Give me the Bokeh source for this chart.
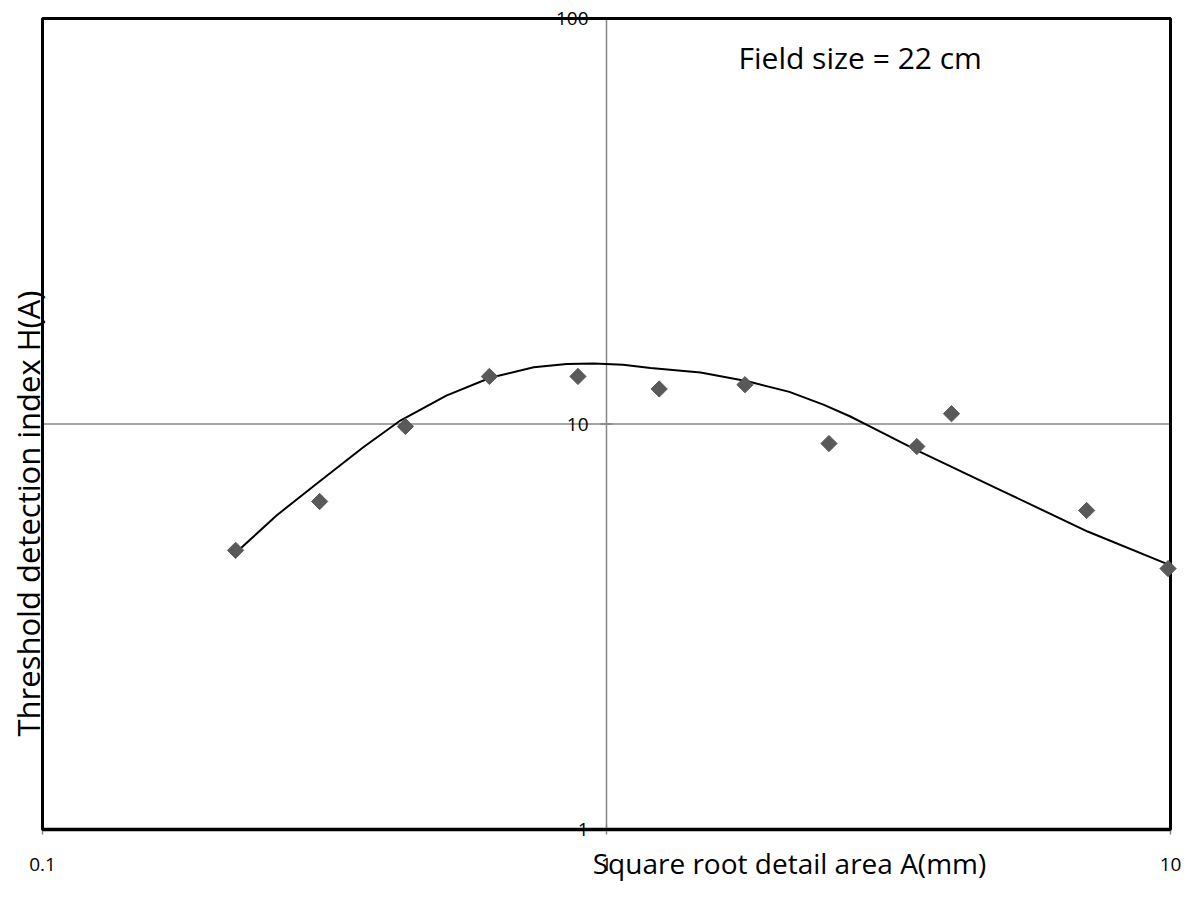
import math
from bokeh.plotting import figure
from bokeh.models import Range1d, Label
from bokeh.core.properties import value
from bokeh.embed import file_html
from bokeh.resources import INLINE

# measured points
detail_size = [0.22, 0.31, 0.44, 0.62, 0.89, 1.24, 1.76, 2.48, 3.55, 4.09, 7.1, 9.9]
threshold_index = [4.88, 6.44, 9.86, 13.1, 13.1, 12.2, 12.5, 8.95, 8.8, 10.6, 6.12, 4.4]

# smoothed trend curve
curve_x = [0.2226, 0.26, 0.307, 0.37, 0.431, 0.52, 0.622, 0.743, 0.85, 0.949, 1.07, 1.197,
           1.468, 1.778, 2.11, 2.43, 2.7, 2.96, 3.56, 4.93, 7.13, 10.0]
curve_y = [4.88, 5.95, 7.14, 8.75, 10.2, 11.75, 13.0, 13.8, 14.05, 14.1, 14.0, 13.75,
           13.4, 12.75, 12.0, 11.15, 10.45, 9.8, 8.6, 6.93, 5.43, 4.48]

x_ticks = [0.1, 1, 10]
x_tick_labels = ["0.1", "1", "10"]
y_ticks = [1, 10, 100]
y_tick_labels = ["1", "10", "100"]

FONT = "Open Sans"
W, H = 1190, 896
# pixel box of the plotting area (layout)
BOX_L, BOX_R, BOX_T, BOX_B = 42, 1170, 18, 829

xmin, xmax = x_ticks[0], x_ticks[-1]
ymin, ymax = y_ticks[0], y_ticks[-1]
x_ppd = (BOX_R - BOX_L) / math.log10(xmax / xmin)
y_ppd = (BOX_B - BOX_T) / math.log10(ymax / ymin)
x_range = Range1d(xmin * 10 ** (-BOX_L / x_ppd), xmax * 10 ** ((W - BOX_R) / x_ppd))
y_range = Range1d(ymin * 10 ** (-(H - BOX_B) / y_ppd), ymax * 10 ** (BOX_T / y_ppd))

p = figure(width=W, height=H, output_backend="svg", toolbar_location=None,
           x_axis_type="log", y_axis_type="log",
           x_range=x_range, y_range=y_range,
           x_axis_location=None, y_axis_location=None,
           min_border=0)
p.background_fill_color = "white"
p.border_fill_color = "white"
p.outline_line_color = None
p.xgrid.visible = False
p.ygrid.visible = False

mid_x = x_ticks[1]
mid_y = y_ticks[1]

# gridlines at the middle ticks
p.segment(x0=[mid_x], y0=[ymin], x1=[mid_x], y1=[ymax], line_color="#868686", line_width=1.5)
p.segment(x0=[xmin], y0=[mid_y], x1=[xmax], y1=[mid_y], line_color="#868686", line_width=1.5)

# small tick marks
p.scatter(x_ticks, [ymin] * len(x_ticks), marker="dash", angle=math.pi / 2, size=10,
          line_color="#868686", line_width=1.5)
p.scatter([mid_x] * len(y_ticks), y_ticks, marker="dash", size=12,
          line_color="#868686", line_width=1.5)

# bottom double rule
p.segment(x0=[xmin], y0=[ymin], x1=[xmax], y1=[ymin], line_color="#7f7f7f", line_width=4)

# plot box
p.quad(left=[xmin], right=[xmax], bottom=[ymin], top=[ymax], fill_color=None,
       line_color="black", line_width=3)

# tick labels
p.text(x=x_ticks, y=[ymin] * len(x_ticks), text=x_tick_labels, y_offset=35,
       text_align="center", text_baseline="middle",
       text_font=value(FONT), text_font_size="19px", text_color="black")
p.text(x=[mid_x] * len(y_ticks), y=y_ticks, text=y_tick_labels, x_offset=-18,
       text_align="right", text_baseline="middle",
       text_font=value(FONT), text_font_size="19px", text_color="black")

p.line(curve_x, curve_y, line_color="black", line_width=2)
p.scatter(detail_size, threshold_index, marker="square", size=11.5, angle=math.pi / 4,
          fill_color="#595959", line_color="#595959")

# titles (screen units from the canvas bottom-left)
p.add_layout(Label(x=738, y=H - 57, x_units="screen", y_units="screen",
                   text="Field size = 22 cm", text_font=FONT, text_font_size="30px",
                   text_align="left", text_baseline="middle", text_color="black"))
p.add_layout(Label(x=789, y=H - 862, x_units="screen", y_units="screen",
                   text="Square root detail area A(mm)", text_font=FONT, text_font_size="28px",
                   text_align="center", text_baseline="middle", text_color="black"))
p.add_layout(Label(x=27, y=H - 513, x_units="screen", y_units="screen", angle=math.pi / 2,
                   text="Threshold detection index H(A)", text_font=FONT, text_font_size="31px",
                   text_align="center", text_baseline="middle", text_color="black"))

open("out.html", "w").write(file_html(p, INLINE))
